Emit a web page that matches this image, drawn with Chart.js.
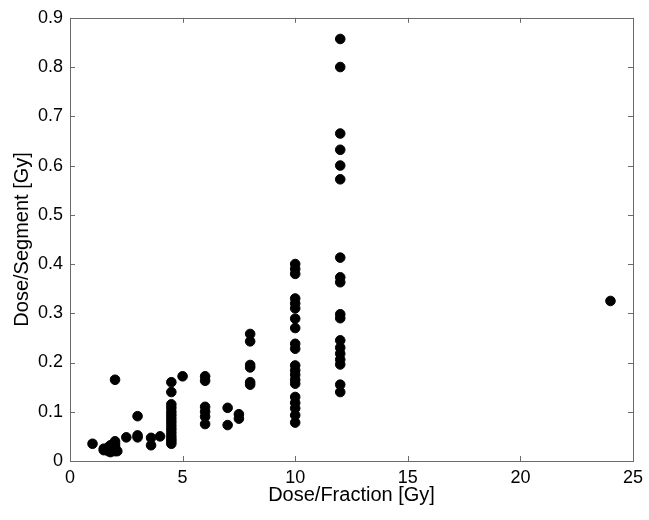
<!DOCTYPE html>
<html lang="en">
<head>
<meta charset="UTF-8">
<title>Dose per segment vs dose per fraction</title>
<script src="https://cdn.jsdelivr.net/npm/chart.js@4.4.1/dist/chart.umd.min.js"></script>
<style>
  html, body { margin: 0; padding: 0; background: #fff; }
  #wrap { width: 649px; height: 520px; position: relative; }
</style>
</head>
<body>
<div id="wrap"><canvas id="doseChart"></canvas></div>
<script>
// dose per fraction [Gy] for each column of points
var fractions = [1, 1.5, 1.7, 1.8, 2, 2.1, 2.5, 3, 3.6, 4, 4.5, 5, 6, 7, 7.5, 8, 10, 12, 24];
// dose per segment [Gy]
var segments = [
    [0.035],
    [0.022, 0.025],
    [0.02, 0.028],
    [0.018, 0.025, 0.032],
    [0.165, 0.04, 0.035, 0.03, 0.025, 0.02],
    [0.02],
    [0.048],
    [0.091, 0.052, 0.048],
    [0.047, 0.032],
    [0.05],
    [0.16, 0.14, 0.115, 0.108, 0.1, 0.093, 0.086, 0.079, 0.072, 0.065, 0.058, 0.051, 0.045, 0.04, 0.035],
    [0.172],
    [0.172, 0.163, 0.11, 0.1, 0.09, 0.075],
    [0.108, 0.073],
    [0.095, 0.086],
    [0.258, 0.243, 0.195, 0.19, 0.16, 0.155],
    [0.4, 0.39, 0.38, 0.33, 0.32, 0.31, 0.289, 0.27, 0.238, 0.228, 0.194, 0.184, 0.175, 0.165, 0.157, 0.13, 0.118, 0.107, 0.093, 0.078],
    [0.857, 0.8, 0.665, 0.632, 0.6, 0.572, 0.413, 0.373, 0.363, 0.298, 0.29, 0.245, 0.23, 0.218, 0.206, 0.196, 0.155, 0.14],
    [0.325]
];
var xTicks = [0, 5, 10, 15, 20, 25];
var yTicks = [0, 0.1, 0.2, 0.3, 0.4, 0.5, 0.6, 0.7, 0.8, 0.9];

var points = [];
fractions.forEach(function (f, i) {
    segments[i].forEach(function (s) { points.push({ x: f, y: s }); });
});

// matlab-like box with inward ticks on all four sides
var boxTicks = {
    id: 'boxTicks',
    afterDraw: function (chart) {
        var c = chart.ctx, a = chart.chartArea;
        var xs = chart.scales.x, ys = chart.scales.y;
        var len = 5;
        c.save();
        c.strokeStyle = '#6b6b6b';
        c.lineWidth = 1;
        c.beginPath();
        xTicks.forEach(function (v) {
            var px = Math.round(xs.getPixelForValue(v)) + 0.5;
            c.moveTo(px, a.bottom); c.lineTo(px, a.bottom - len);
            c.moveTo(px, a.top); c.lineTo(px, a.top + len);
        });
        yTicks.forEach(function (v) {
            var py = Math.round(ys.getPixelForValue(v)) + 0.5;
            c.moveTo(a.left, py); c.lineTo(a.left + len, py);
            c.moveTo(a.right, py); c.lineTo(a.right - len, py);
        });
        c.stroke();
        c.strokeRect(Math.round(a.left) + 0.5, Math.round(a.top) + 0.5,
            Math.round(a.right - a.left), Math.round(a.bottom - a.top));
        c.restore();
    }
};

var tickFont = { family: '"Liberation Sans", Arial, sans-serif', size: 18 };
var titleFont = { family: '"Liberation Sans", Arial, sans-serif', size: 20 };

new Chart(document.getElementById('doseChart'), {
    type: 'scatter',
    data: {
        datasets: [{
            data: points,
            backgroundColor: '#000',
            borderColor: '#000',
            pointRadius: 4.8,
            pointHoverRadius: 4.8
        }]
    },
    options: {
        responsive: true,
        maintainAspectRatio: false,
        animation: false,
        layout: { padding: { top: 15, right: 15, left: 0, bottom: 0 } },
        plugins: { legend: { display: false }, tooltip: { enabled: false } },
        scales: {
            x: {
                type: 'linear',
                min: 0, max: 25,
                afterFit: function (s) { s.height = 59; },
                afterBuildTicks: function (s) { s.ticks = xTicks.map(function (v) { return { value: v }; }); },
                grid: { display: false, drawTicks: false },
                border: { display: false },
                ticks: { color: '#000', font: tickFont, padding: 6, maxRotation: 0 },
                title: { display: true, text: 'Dose/Fraction [Gy]', color: '#000', font: titleFont, padding: { top: 0, bottom: 13 } }
            },
            y: {
                type: 'linear',
                min: 0, max: 0.9,
                afterFit: function (s) { s.width = 70; },
                afterBuildTicks: function (s) { s.ticks = yTicks.map(function (v) { return { value: v }; }); },
                grid: { display: false, drawTicks: false },
                border: { display: false },
                ticks: { color: '#000', font: tickFont, padding: 7, callback: function (v) { return String(Math.round(v * 10) / 10); } },
                title: { display: true, text: 'Dose/Segment [Gy]', color: '#000', font: titleFont, padding: { top: 10, bottom: 0 } }
            }
        }
    },
    plugins: [boxTicks]
});
</script>
</body>
</html>
